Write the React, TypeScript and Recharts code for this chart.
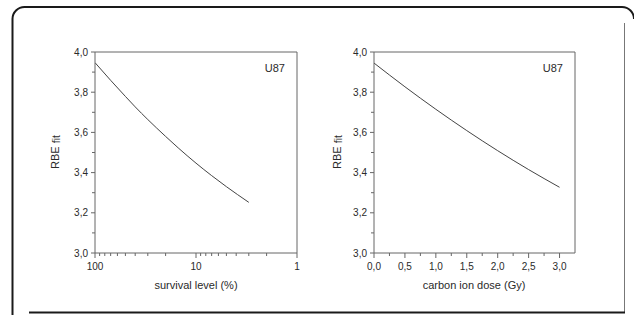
import React from "react";
import { LineChart, Line, XAxis, YAxis, ReferenceLine } from "recharts";

// left panel: RBE vs survival level (log, reversed)
const survivalPct = [100, 70, 50, 40, 30, 20, 15, 10, 7, 5, 3];
const rbeSurvival = [3.947, 3.859, 3.779, 3.727, 3.664, 3.58, 3.523, 3.447, 3.385, 3.33, 3.252];

// right panel: RBE vs carbon ion dose
const doseGy = [0, 0.5, 1.0, 1.5, 2.0, 2.5, 3.0];
const rbeDose = [3.945, 3.827, 3.715, 3.609, 3.509, 3.415, 3.327];

const rbeTicks = [3.0, 3.1, 3.2, 3.3, 3.4, 3.5, 3.6, 3.7, 3.8, 3.9, 4.0];
const survivalTicks = [100, 90, 80, 70, 60, 50, 40, 30, 20, 10, 9, 8, 7, 6, 5, 4, 3, 2, 1];
const survivalMajor = [100, 10, 1];
const doseTicks = [0, 0.25, 0.5, 0.75, 1.0, 1.25, 1.5, 1.75, 2.0, 2.25, 2.5, 2.75, 3.0];

const cellLine = "U87";
const yTitle = "RBE";
const ySub = "fit";
const xTitleLeft = "survival level (%)";
const xTitleRight = "carbon ion dose (Gy)";

const FONT = "Arial, 'Liberation Sans', Helvetica, sans-serif";
const AXIS = "#666";
const TEXT = "#2a2a2a";

const survivalData = survivalPct.map((s, i) => ({ s, rbe: rbeSurvival[i] }));
const doseData = doseGy.map((d, i) => ({ d, rbe: rbeDose[i] }));

const comma = (v: number) => v.toFixed(1).replace(".", ",");

const YTick = (props: any) => {
  const { x, y, payload } = props;
  const v = payload.value;
  const major = Math.round(v * 10) % 2 === 0;
  return (
    <g>
      <line x1={x - (major ? 4 : 3)} x2={x} y1={y} y2={y} stroke={AXIS} />
      {major && (
        <text x={x - 7} y={y + 3.5} textAnchor="end" fontSize={10} fill={TEXT} fontFamily={FONT}>
          {comma(v)}
        </text>
      )}
    </g>
  );
};

const SurvivalTick = (props: any) => {
  const { x, y, payload } = props;
  const major = survivalMajor.includes(payload.value);
  return (
    <g>
      <line x1={x} x2={x} y1={y} y2={y + (major ? 5 : 3)} stroke={AXIS} />
      {major && (
        <text x={x} y={y + 16.5} textAnchor="middle" fontSize={10} fill={TEXT} fontFamily={FONT}>
          {payload.value}
        </text>
      )}
    </g>
  );
};

const DoseTick = (props: any) => {
  const { x, y, payload } = props;
  const major = Number.isInteger(payload.value * 2);
  return (
    <g>
      <line x1={x} x2={x} y1={y} y2={y + (major ? 5 : 3)} stroke={AXIS} />
      {major && (
        <text x={x} y={y + 16.5} textAnchor="middle" fontSize={10} fill={TEXT} fontFamily={FONT}>
          {comma(payload.value)}
        </text>
      )}
    </g>
  );
};

const YLabel = ({ cx, cy }: { cx: number; cy: number }) => (
  <text
    x={cx}
    y={cy}
    transform={`rotate(-90 ${cx} ${cy})`}
    textAnchor="middle"
    fontSize={11}
    fill={TEXT}
    fontFamily={FONT}
  >
    {yTitle}
    <tspan fontSize={10.5} dy={1} dx={3}>
      {ySub}
    </tspan>
  </text>
);

export default function App() {
  return (
    <div style={{ position: "absolute", left: 0, top: 0, width: 634, height: 315, background: "#fff" }}>
      <div style={{ position: "absolute", left: 0, top: 0 }}>
        <LineChart width={320} height={315} data={survivalData} margin={{ top: 52, left: 55, right: 23, bottom: 32 }}>
          <XAxis
            dataKey="s"
            type="number"
            scale="log"
            domain={[1, 100]}
            reversed
            ticks={survivalTicks}
            interval={0}
            tick={SurvivalTick}
            tickLine={false}
            tickSize={0}
            tickMargin={0}
            height={30}
            stroke={AXIS}
            allowDataOverflow
          />
          <YAxis
            type="number"
            domain={[3, 4]}
            ticks={rbeTicks}
            interval={0}
            tick={YTick}
            tickLine={false}
            tickSize={0}
            tickMargin={0}
            width={40}
            stroke={AXIS}
          />
          <ReferenceLine y={4} stroke={AXIS} />
          <ReferenceLine x={1} stroke={AXIS} />
          <Line
            dataKey="rbe"
            type="monotone"
            stroke="#444"
            strokeWidth={1}
            dot={false}
            isAnimationActive={false}
          />
        </LineChart>
      </div>
      <div style={{ position: "absolute", left: 320, top: 0 }}>
        <LineChart width={314} height={315} data={doseData} margin={{ top: 52, left: 14, right: 59, bottom: 32 }}>
          <XAxis
            dataKey="d"
            type="number"
            domain={[0, 3.25]}
            ticks={doseTicks}
            interval={0}
            tick={DoseTick}
            tickLine={false}
            tickSize={0}
            tickMargin={0}
            height={30}
            stroke={AXIS}
          />
          <YAxis
            type="number"
            domain={[3, 4]}
            ticks={rbeTicks}
            interval={0}
            tick={YTick}
            tickLine={false}
            tickSize={0}
            tickMargin={0}
            width={40}
            stroke={AXIS}
          />
          <ReferenceLine y={4} stroke={AXIS} />
          <ReferenceLine x={3.25} stroke={AXIS} />
          <Line
            dataKey="rbe"
            type="monotone"
            stroke="#444"
            strokeWidth={1}
            dot={false}
            isAnimationActive={false}
          />
        </LineChart>
      </div>
      {/* titles and the figure frame */}
      <svg width={634} height={315} style={{ position: "absolute", left: 0, top: 0, pointerEvents: "none" }}>
        <path
          d="M12.5,315 L12.5,19 A12,12 0 0 1 24.5,7 L622,7 A12,12 0 0 1 634,19"
          fill="none"
          stroke="#1a1a1a"
          strokeWidth={2}
        />
        <line x1={624.5} x2={624.5} y1={23} y2={312} stroke="#777" strokeWidth={1} />
        <line x1={29} x2={625} y1={312.5} y2={312.5} stroke="#1a1a1a" strokeWidth={2} />
        <YLabel cx={59} cy={152} />
        <YLabel cx={341} cy={152} />
        <text x={196} y={289} textAnchor="middle" fontSize={11} fill={TEXT} fontFamily={FONT}>
          {xTitleLeft}
        </text>
        <text x={474} y={289} textAnchor="middle" fontSize={11} fill={TEXT} fontFamily={FONT}>
          {xTitleRight}
        </text>
        <text x={285} y={72} textAnchor="end" fontSize={11} fill={TEXT} fontFamily={FONT}>
          {cellLine}
        </text>
        <text x={563} y={72} textAnchor="end" fontSize={11} fill={TEXT} fontFamily={FONT}>
          {cellLine}
        </text>
      </svg>
    </div>
  );
}
